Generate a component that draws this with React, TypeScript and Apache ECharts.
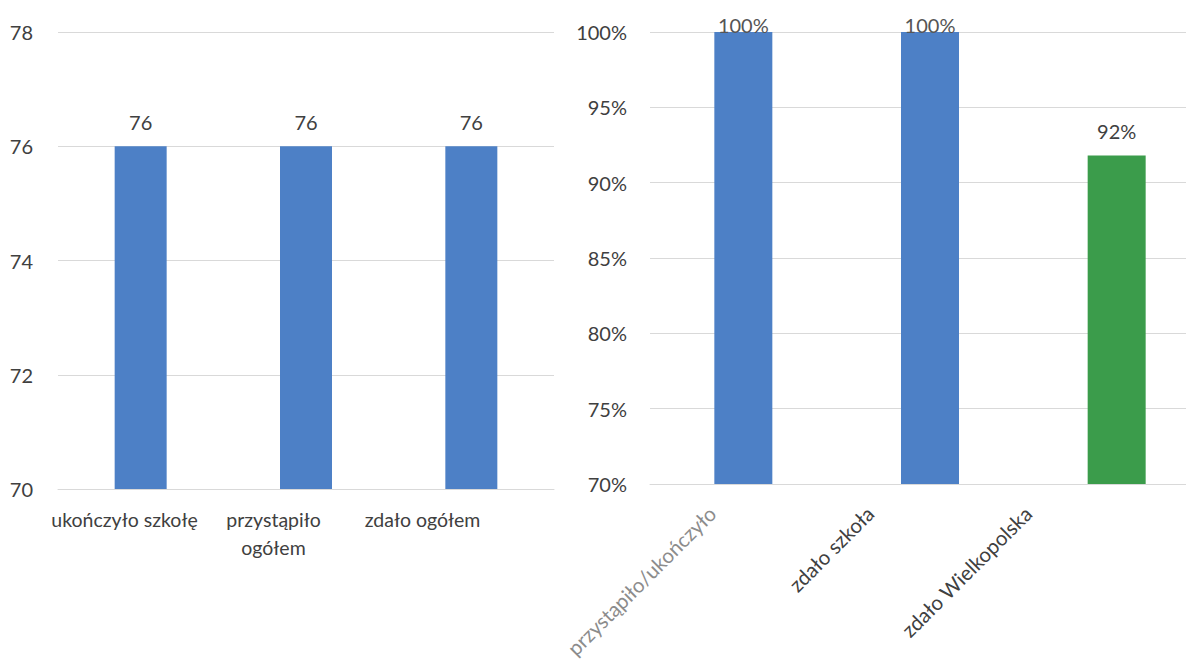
import React, { useEffect, useRef } from "react";
import * as echarts from "echarts";

// ---- data ----
const leftCategories = ["ukończyło szkołę", "przystąpiło ogółem", "zdało ogółem"];
const leftValues = [76, 76, 76];
const leftMin = 70;
const leftMax = 78;
const leftStep = 2;

const rightCategories = ["przystąpiło/ukończyło", "zdało szkoła", "zdało Wielkopolska"];
const rightValues = [100, 100, 91.8];
const rightMin = 70;
const rightMax = 100;
const rightStep = 5;

// ---- styles ----
const BLUE = "#4d80c6";
const GREEN = "#3b9c4b";
const GRID_LINE = "#d9d9d9";
const TEXT = "#404040";
const FONT = "Lato, 'Noto Sans', sans-serif";
const rightBarColors = [BLUE, BLUE, GREEN];
const rightLabelColors = ["#8c8c8c", TEXT, TEXT];

export default function App() {
  const ref = useRef<HTMLDivElement>(null);

  useEffect(() => {
    document.body.style.margin = "0";
    const chart = echarts.init(ref.current!, undefined, { renderer: "svg" });
    const option = {
      animation: false,
      textStyle: { fontFamily: FONT },
      grid: [
        { left: 58, top: 32, width: 496, height: 457, outerBoundsMode: "none" },
        { left: 50, top: 32, width: 447, height: 457, outerBoundsMode: "none" },
        { left: 650, top: 32, width: 560, height: 452, outerBoundsMode: "none" },
        { left: 633, top: 32, width: 474, height: 452, outerBoundsMode: "none" },
      ],
      xAxis: [
        {
          type: "category",
          gridIndex: 0,
          data: leftCategories,
          axisTick: { show: false },
          axisLabel: { show: false },
          axisLine: { lineStyle: { color: GRID_LINE, width: 1 } },
        },
        {
          type: "category",
          gridIndex: 1,
          data: leftCategories,
          axisTick: { show: false },
          axisLine: { show: false },
          axisLabel: {
            interval: 0,
            margin: 16,
            fontSize: 19.5,
            lineHeight: 28,
            color: TEXT,
            fontFamily: FONT,
            formatter: (v: string) => (v.length > 16 ? v.replace(" ", "\n") : v),
          },
        },
        {
          type: "category",
          gridIndex: 2,
          data: rightCategories,
          axisTick: { show: false },
          axisLabel: { show: false },
          axisLine: { lineStyle: { color: GRID_LINE, width: 1 } },
        },
        {
          type: "category",
          gridIndex: 3,
          data: rightCategories.map((c, i) => ({
            value: c,
            textStyle: { color: rightLabelColors[i] },
          })),
          axisTick: { show: false },
          axisLine: { show: false },
          axisLabel: {
            interval: 0,
            rotate: 45,
            margin: 26,
            fontSize: 20.5,
            fontFamily: FONT,
          },
        },
      ],
      yAxis: [
        {
          type: "value",
          gridIndex: 0,
          min: leftMin,
          max: leftMax,
          interval: leftStep,
          axisLine: { show: false },
          axisTick: { show: false },
          axisLabel: { margin: 25, fontSize: 20, color: TEXT, fontFamily: FONT },
          splitLine: { lineStyle: { color: GRID_LINE, width: 1 } },
        },
        { type: "value", gridIndex: 1, min: 0, max: 1, show: false },
        {
          type: "value",
          gridIndex: 2,
          min: rightMin,
          max: rightMax,
          interval: rightStep,
          axisLine: { show: false },
          axisTick: { show: false },
          axisLabel: {
            margin: 23,
            fontSize: 20,
            color: TEXT,
            fontFamily: FONT,
            formatter: "{value}%",
          },
          splitLine: { lineStyle: { color: GRID_LINE, width: 1 } },
        },
        { type: "value", gridIndex: 3, min: 0, max: 1, show: false },
      ],
      series: [
        {
          type: "bar",
          xAxisIndex: 0,
          yAxisIndex: 0,
          data: leftValues,
          barWidth: 52,
          itemStyle: { color: BLUE },
          label: {
            show: true,
            position: "top",
            distance: 14,
            fontSize: 20,
            color: TEXT,
            fontFamily: FONT,
          },
        },
        {
          type: "bar",
          xAxisIndex: 2,
          yAxisIndex: 2,
          barWidth: 58,
          data: rightValues.map((v, i) => ({
            value: v,
            itemStyle: { color: rightBarColors[i] },
            label: { distance: v >= rightMax ? -3 : 15, color: v >= rightMax ? "#555555" : TEXT },
          })),
          label: {
            show: true,
            position: "top",
            fontSize: 20,
            fontFamily: FONT,
            formatter: (p: any) => Math.round(p.value) + "%",
          },
        },
      ],
    };
    chart.setOption(option);
    return () => chart.dispose();
  }, []);

  return (
    <div
      ref={ref}
      style={{ position: "absolute", left: 0, top: 0, width: 1186, height: 667, background: "#fff" }}
    />
  );
}
